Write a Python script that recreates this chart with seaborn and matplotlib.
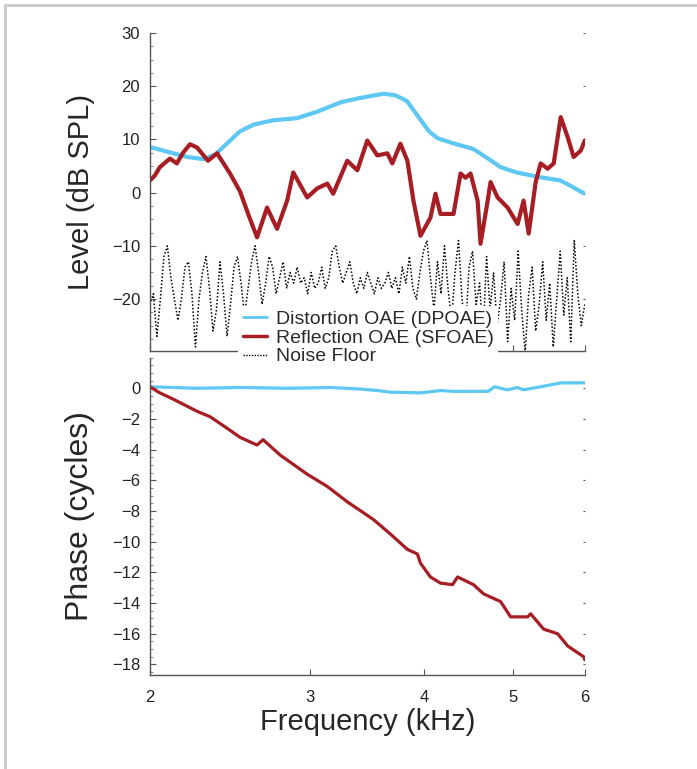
import numpy as np
import pandas as pd
import seaborn as sns
from matplotlib import pyplot as plt
from matplotlib.ticker import AutoMinorLocator, NullLocator, FixedLocator, FixedFormatter
from matplotlib.lines import Line2D

# Level panel (dB SPL)
dp_freq = [2.00, 2.10, 2.20, 2.29, 2.36, 2.45, 2.51, 2.60, 2.73, 2.90, 3.05, 3.24, 3.40,
           3.61, 3.72, 3.83, 3.95, 4.05, 4.14, 4.30, 4.53, 4.70, 4.85, 5.05, 5.36, 5.64, 5.80, 6.00]
dp_level = [8.6, 7.6, 6.7, 6.3, 7.2, 9.8, 11.5, 12.8, 13.6, 14.0, 15.2, 17.0, 17.8,
            18.6, 18.3, 17.2, 14.0, 11.5, 10.2, 9.3, 8.2, 6.4, 4.8, 3.8, 2.9, 2.3, 1.2, -0.2]

sf_freq = [2.000, 2.025, 2.051, 2.104, 2.141, 2.175, 2.213, 2.253, 2.316, 2.370, 2.449, 2.512,
           2.570, 2.622, 2.689, 2.758, 2.829, 2.873, 2.976, 3.052, 3.131, 3.178, 3.293, 3.378,
           3.464, 3.553, 3.644, 3.690, 3.766, 3.833, 3.892, 3.962, 4.063, 4.115, 4.167, 4.307,
           4.384, 4.440, 4.496, 4.577, 4.611, 4.690, 4.729, 4.814, 4.937, 5.064, 5.141, 5.207,
           5.300, 5.367, 5.463, 5.547, 5.646, 5.747, 5.834, 5.939, 6.000]
sf_level = [2.3, 3.2, 4.8, 6.4, 5.5, 7.5, 9.1, 8.5, 6.0, 7.4, 3.6, 0.2,
            -4.5, -8.4, -2.8, -6.8, -1.5, 3.8, -0.9, 0.8, 1.7, -0.2, 6.0, 4.2,
            9.8, 7.0, 7.4, 5.5, 9.2, 6.0, -1.5, -8.1, -4.7, -0.2, -4.0, -4.0,
            3.6, 2.8, 3.6, -1.5, -9.6, -2.0, 2.0, -0.9, -2.8, -5.9, -1.5, -7.7,
            2.0, 5.5, 4.5, 5.5, 14.2, 10.4, 6.7, 7.9, 9.8]

noise_level = [-21, -19, -27, -20, -12, -10, -16, -20, -24, -20, -14, -13, -19, -29,
               -20, -15, -12, -18, -26, -22, -13, -19, -27, -21, -14, -12, -17, -23,
               -18, -13, -10, -15, -21, -17, -12, -14, -19, -16, -13, -18, -15, -17,
               -14, -17, -16, -19, -15, -18, -17, -14, -18, -16, -11, -10, -14, -17,
               -15, -13, -17, -19, -16, -18, -15, -17, -19, -16, -18, -17, -15, -18,
               -16, -19, -14, -17, -12, -18, -20, -15, -11, -9, -16, -22, -13, -19,
               -10, -18, -24, -15, -9, -20, -26, -14, -11, -21, -17, -27, -12, -22,
               -15, -25, -20, -13, -28, -18, -24, -11, -22, -30, -19, -14, -26, -21,
               -13, -24, -17, -29, -20, -11, -23, -16, -28, -9, -19, -25, -21]
noise_freq = np.geomspace(2, 6, len(noise_level))

# Phase panel (cycles)
dp_ph_freq = [2.00, 2.25, 2.52, 2.83, 3.16, 3.40, 3.56, 3.66, 3.96, 4.17, 4.30, 4.53,
              4.70, 4.78, 4.85, 4.94, 5.06, 5.14, 5.37, 5.65, 6.00]
dp_phase = [0.1, 0.0, 0.05, 0.0, 0.05, -0.05, -0.15, -0.25, -0.3, -0.15, -0.2, -0.2,
            -0.2, 0.1, 0.0, -0.1, 0.05, -0.1, 0.1, 0.35, 0.35]

sf_ph_freq = [2.000, 2.051, 2.120, 2.253, 2.328, 2.430, 2.512, 2.622, 2.662, 2.779, 2.976,
              3.131, 3.293, 3.517, 3.672, 3.833, 3.931, 3.962, 4.063, 4.167, 4.296, 4.351,
              4.530, 4.646, 4.850, 4.975, 5.194, 5.233, 5.408, 5.603, 5.747, 5.984, 6.000]
sf_phase = [0.1, -0.3, -0.7, -1.5, -1.85, -2.6, -3.2, -3.7, -3.35, -4.35, -5.6,
            -6.4, -7.4, -8.55, -9.5, -10.5, -10.8, -11.4, -12.3, -12.7, -12.8, -12.3,
            -12.8, -13.4, -13.9, -14.9, -14.9, -14.7, -15.7, -16.0, -16.8, -17.5, -17.7]

blue = '#5ec8f2'
red = '#a71d24'

sns.set_theme(style='ticks')
plt.rcParams['font.family'] = ['Liberation Sans', 'DejaVu Sans']

fig = plt.figure(figsize=(6.97, 7.69), dpi=100)
ax1 = fig.add_axes([0.215, 0.544, 0.624, 0.413])
ax2 = fig.add_axes([0.215, 0.122, 0.624, 0.413])

sns.lineplot(x=noise_freq, y=noise_level, ax=ax1, color='black', lw=1.1,
             linestyle=(0, (1, 1.3)), estimator=None, sort=False)
sns.lineplot(x=dp_freq, y=dp_level, ax=ax1, color=blue, lw=3.0, estimator=None, sort=False,
             solid_joinstyle='round', solid_capstyle='round')
sns.lineplot(x=sf_freq, y=sf_level, ax=ax1, color=red, lw=3.0, estimator=None, sort=False,
             solid_joinstyle='round', solid_capstyle='round')

sns.lineplot(x=dp_ph_freq, y=dp_phase, ax=ax2, color=blue, lw=2.3, estimator=None, sort=False,
             solid_joinstyle='round')
sns.lineplot(x=sf_ph_freq, y=sf_phase, ax=ax2, color=red, lw=2.3, estimator=None, sort=False,
             solid_joinstyle='round')

for ax in (ax1, ax2):
    ax.set_xscale('log')
    ax.set_xlim(2, 6)
    ax.xaxis.set_major_locator(FixedLocator([2, 3, 4, 5, 6]))
    ax.xaxis.set_minor_locator(NullLocator())
    ax.yaxis.set_minor_locator(AutoMinorLocator(4))
    ax.tick_params(axis='both', which='major', direction='in', length=4, width=0.8,
                   color='#555555', labelsize=12, labelcolor='#222222', pad=7)
    ax.tick_params(axis='y', which='minor', direction='in', length=2, width=0.6,
                   color='#777777', right=False)
    ax.tick_params(axis='y', which='major', right=True)
    for s in ['top', 'right']:
        ax.spines[s].set_visible(False)
    for s in ['left', 'bottom']:
        ax.spines[s].set_color('#555555')
        ax.spines[s].set_linewidth(1.0)

ax1.set_ylim(-29.7, 30)
ax1.set_yticks([-20, -10, 0, 10, 20, 30])
ax1.set_yticklabels(['\u221220', '\u221210', '0', '10', '20', '30'])
ax1.set_xticklabels([])
ax1.set_ylabel('Level (dB SPL)', fontsize=21)
ax1.set_xlabel('')

ax2.set_ylim(-18.7, 2)
ph_ticks = [0, -2, -4, -6, -8, -10, -12, -14, -16, -18]
ax2.set_yticks(ph_ticks)
ax2.set_yticklabels(['0'] + ['\u2212' + str(-t) for t in ph_ticks[1:]])
ax2.xaxis.set_major_formatter(FixedFormatter(['2', '3', '4', '5', '6']))
ax2.tick_params(axis='x', labelsize=12, pad=11)
ax2.set_ylabel('Phase (cycles)', fontsize=23)
ax2.set_xlabel('Frequency (kHz)', fontsize=21, labelpad=2)
ax1.yaxis.set_label_coords(-0.125, 0.5)
ax2.yaxis.set_label_coords(-0.125, 0.5)

for t in ax1.yaxis.get_major_ticks() + ax2.yaxis.get_major_ticks():
    t.tick2line.set_markersize(1.5)

handles = [Line2D([], [], color=blue, lw=2),
           Line2D([], [], color=red, lw=2.5),
           Line2D([], [], color='black', lw=1, linestyle=(0, (1, 1)))]
leg = fig.legend(handles, ['Distortion OAE (DPOAE)', 'Reflection OAE (SFOAE)', 'Noise Floor'],
                 loc='upper left', bbox_to_anchor=(228 / 697, 1 - 296 / 769),
                 frameon=True, fontsize=14, handlelength=1.25, handletextpad=0.45,
                 labelspacing=0.05, borderpad=0.25, labelcolor='#2a2a2a')
leg.get_frame().set_facecolor('white')
leg.get_frame().set_edgecolor('none')
leg.get_frame().set_alpha(1)
leg.set_zorder(10)

# light frame around the figure
fig.add_artist(Line2D([5 / 697, 1], [1 - 5 / 769, 1 - 5 / 769], color='#c8c8c8', lw=2))
fig.add_artist(Line2D([5 / 697, 5 / 697], [0, 1 - 5 / 769], color='#c8c8c8', lw=2))

fig.savefig('out.png', dpi=100, facecolor='white')
